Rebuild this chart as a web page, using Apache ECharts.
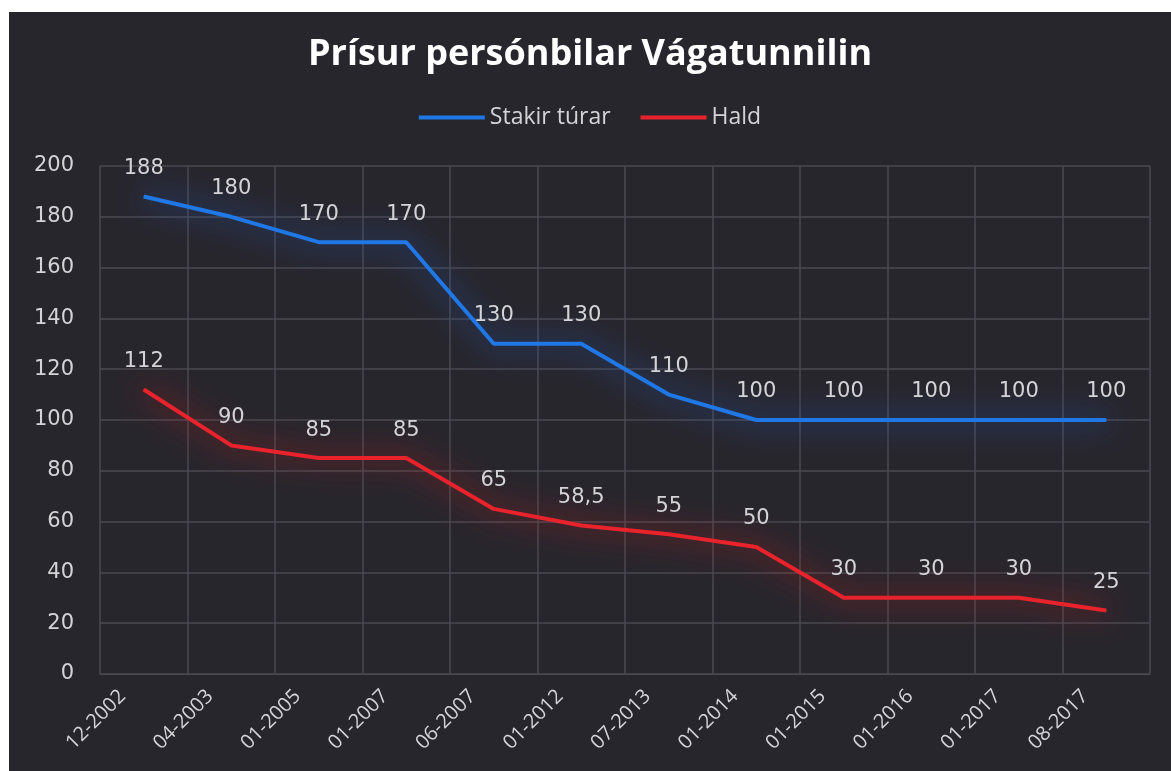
<!DOCTYPE html>
<html>
<head>
<meta charset="utf-8">
<script src="https://cdn.jsdelivr.net/npm/echarts@6/dist/echarts.min.js"></script>
<style>
  html, body { margin: 0; padding: 0; background: #ffffff; }
  #chart { position: absolute; left: 9px; top: 12px; width: 1162px; height: 759px; }
</style>
</head>
<body>
<div id="chart"></div>
<script>
const categories = ["12-2002", "04-2003", "01-2005", "01-2007", "06-2007", "01-2012",
  "07-2013", "01-2014", "01-2015", "01-2016", "01-2017", "08-2017"];
const stakirTurar = [188, 180, 170, 170, 130, 130, 110, 100, 100, 100, 100, 100];
const hald = [112, 90, 85, 85, 65, 58.5, 55, 50, 30, 30, 30, 25];

const chart = echarts.init(document.getElementById("chart"));
const textColor = "#d4d4d8";
const gridColor = "#4a4850";

// felags stílur fyri linjurnar
const lineSeries = (name, data, color, glow) => ({
  name: name,
  type: "line",
  data: data,
  symbol: "circle",
  symbolSize: 1,
  lineStyle: {
    color: color,
    width: 4,
    shadowColor: glow,
    shadowBlur: 30,
  },
  itemStyle: { color: color },
  label: {
    show: true,
    position: "top",
    distance: 17,
    color: textColor,
    fontSize: 21,
    fontFamily: "DejaVu Sans",
    formatter: (p) => String(p.value).replace(".", ","),
  },
});

const option = {
  backgroundColor: "#28262d",
  animation: false,
  title: {
    text: "Prísur persónbilar Vágatunnilin",
    left: "center",
    top: 20,
    textStyle: {
      color: "#ffffff",
      fontSize: 36,
      fontWeight: "bold",
      fontFamily: "Open Sans",
    },
  },
  legend: {
    top: 89,
    left: "center",
    icon: "rect",
    itemWidth: 66,
    itemHeight: 4,
    itemGap: 30,
    textStyle: { color: textColor, fontSize: 23, fontFamily: "Open Sans" },
  },
  grid: {
    left: 91,
    right: 21,
    top: 154,
    bottom: 97,
  },
  xAxis: {
    type: "category",
    data: categories,
    boundaryGap: true,
    axisLine: { show: true, lineStyle: { color: gridColor } },
    axisTick: { show: false },
    splitLine: { show: true, lineStyle: { color: gridColor, width: 1.5 } },
    axisLabel: {
      rotate: 45,
      color: textColor,
      fontSize: 20,
      fontFamily: "Open Sans",
      margin: -2,
      padding: [0, 30, 0, 0],
      interval: 0,
    },
  },
  yAxis: {
    type: "value",
    min: 0,
    max: 200,
    interval: 20,
    axisLine: { show: false },
    axisTick: { show: false },
    splitLine: { lineStyle: { color: gridColor, width: 1.5 } },
    axisLabel: {
      color: textColor,
      fontSize: 21,
      fontFamily: "DejaVu Sans",
      margin: 26,
    },
  },
  series: [
    lineSeries("Stakir túrar", stakirTurar, "#1f78e6", "rgba(30,110,235,1)"),
    lineSeries("Hald", hald, "#e8232b", "rgba(235,30,30,1)"),
  ],
};
chart.setOption(option);
</script>
</body>
</html>
